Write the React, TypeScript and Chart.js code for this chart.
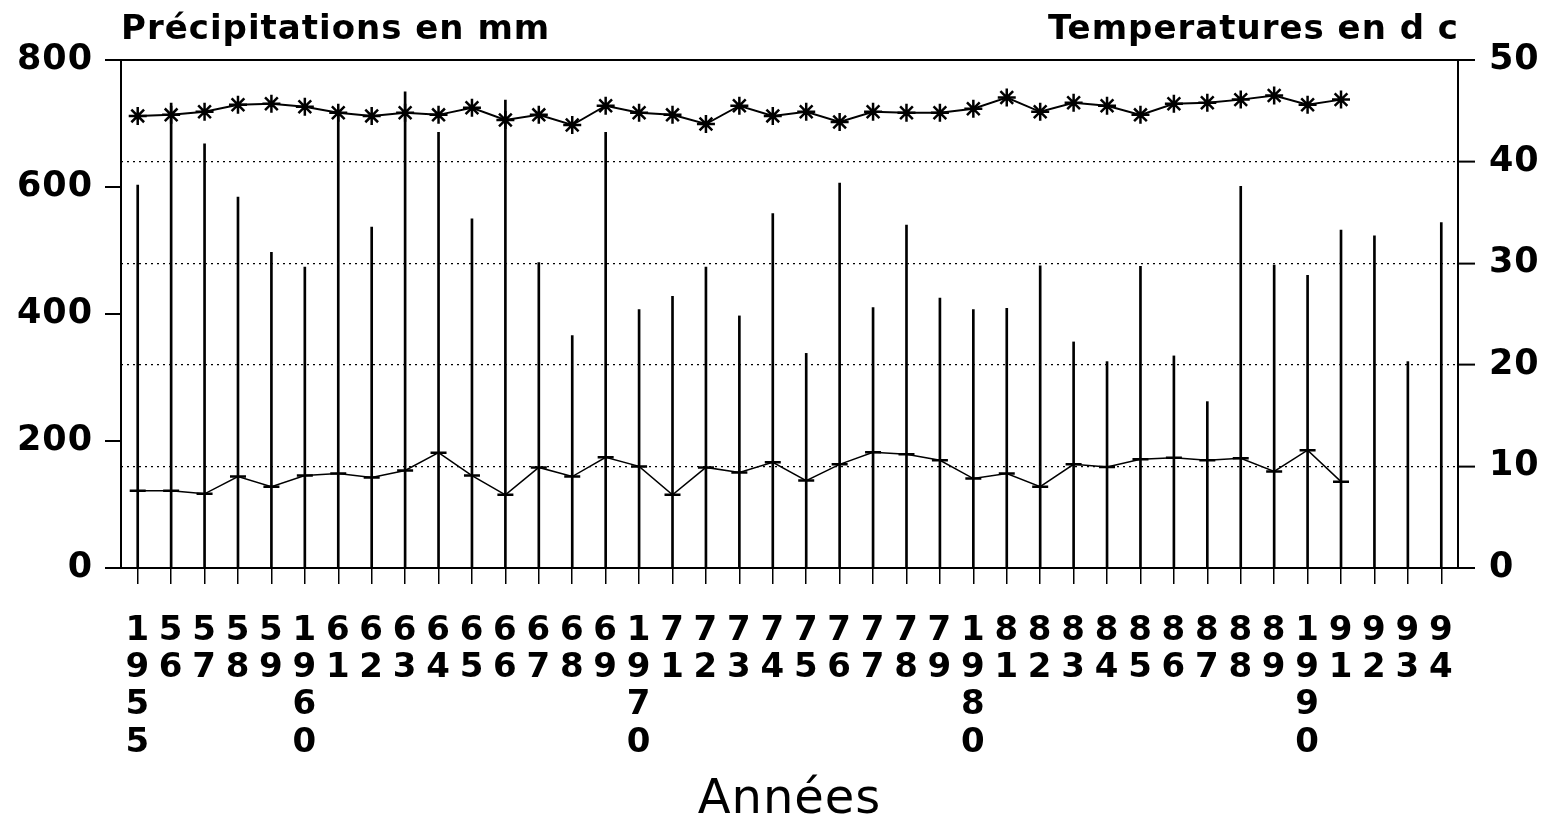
import React, { useEffect, useRef } from 'react';
import { Chart, registerables } from 'chart.js';

Chart.register(...registerables);

// ---- Data ----
const yearTicks = [
  '1955', '56', '57', '58', '59',
  '1960', '61', '62', '63', '64', '65', '66', '67', '68', '69',
  '1970', '71', '72', '73', '74', '75', '76', '77', '78', '79',
  '1980', '81', '82', '83', '84', '85', '86', '87', '88', '89',
  '1990', '91', '92', '93', '94',
];

// Précipitations annuelles (mm)
const precipitation = [
  603, 732, 668, 584, 497,
  474, 718, 537, 750, 686, 550, 737, 481, 366, 686,
  407, 428, 474, 397, 558, 338, 606, 410, 540, 425,
  407, 409, 476, 356, 325, 475, 334, 262, 601, 477,
  461, 532, 523, 325, 544,
];

// Températures maximales (°C), 1955-1991
const tempMax = [
  44.5, 44.6, 44.9, 45.6, 45.7,
  45.4, 44.8, 44.5, 44.8, 44.6, 45.3, 44.1, 44.6, 43.6, 45.5,
  44.8, 44.6, 43.7, 45.5, 44.5, 44.9, 43.9, 44.9, 44.8, 44.8,
  45.2, 46.3, 44.9, 45.8, 45.5, 44.6, 45.7, 45.8, 46.1, 46.5,
  45.6, 46.1,
];

// Températures minimales (°C), 1955-1991
const tempMin = [
  7.6, 7.6, 7.3, 9.0, 8.0,
  9.1, 9.3, 8.9, 9.6, 11.35, 9.1, 7.2, 9.9, 9.0, 10.9,
  10.0, 7.2, 9.9, 9.4, 10.4, 8.6, 10.2, 11.4, 11.2, 10.6,
  8.8, 9.3, 8.0, 10.2, 9.95, 10.7, 10.85, 10.6, 10.8, 9.5,
  11.6, 8.5,
];

const leftTicks = [0, 200, 400, 600, 800];
const rightTicks = [0, 10, 20, 30, 40, 50];

const leftTitle = 'Précipitations en mm';
const rightTitle = 'Temperatures en d c';
const xTitle = 'Années';

const FONT = '"DejaVu Sans", "Liberation Sans", sans-serif';

const textPlugin = {
  id: 'textPlugin',
  beforeDraw(chart: any) {
    (chart.ctx as any).letterSpacing = '1px';
  },
  afterDraw(chart: any) {
    const { ctx, chartArea } = chart;
    ctx.save();
    (ctx as any).letterSpacing = '1px';
    ctx.fillStyle = '#000';
    ctx.font = `bold 34px ${FONT}`;
    ctx.textBaseline = 'alphabetic';
    ctx.textAlign = 'left';
    ctx.fillText(leftTitle, chartArea.left, 39);
    ctx.textAlign = 'right';
    ctx.fillText(rightTitle, chartArea.right + 1, 39);
    ctx.restore();
  },
};

export default function App() {
  const canvasRef = useRef<HTMLCanvasElement | null>(null);

  useEffect(() => {
    if (!canvasRef.current) return;
    const chart = new Chart(canvasRef.current, {
      type: 'bar',
      data: {
        labels: yearTicks.map((t) => t.split('')),
        datasets: [
          {
            type: 'line',
            label: 'Tmax',
            data: tempMax,
            yAxisID: 'y1',
            borderColor: '#000',
            borderWidth: 2,
            pointStyle: 'star',
            pointRadius: 9,
            pointBorderWidth: 2.5,
            pointBorderColor: '#000',
            pointBackgroundColor: '#000',
            tension: 0,
            order: 1,
          } as any,
          {
            type: 'line',
            label: 'Tmin',
            data: tempMin,
            yAxisID: 'y1',
            borderColor: '#000',
            borderWidth: 1.5,
            pointStyle: 'line',
            pointRadius: 8,
            pointBorderWidth: 2.5,
            pointBorderColor: '#000',
            pointBackgroundColor: '#000',
            tension: 0,
            order: 2,
          } as any,
          {
            type: 'bar',
            label: 'Précipitations',
            data: precipitation,
            yAxisID: 'y',
            backgroundColor: '#000',
            borderWidth: 0,
            barThickness: 2,
            order: 3,
          } as any,
        ],
      },
      options: {
        animation: false,
        responsive: true,
        maintainAspectRatio: false,
        layout: { padding: { top: 60, left: 0, right: 0, bottom: 0 } },
        plugins: {
          legend: { display: false },
          tooltip: { enabled: false },
          title: { display: false },
        },
        scales: {
          x: {
            type: 'category',
            position: 'bottom',
            offset: true,
            grid: {
              offset: false,
              drawOnChartArea: false,
              drawTicks: true,
              tickLength: 16,
              color: '#000',
              lineWidth: 1.5,
            },
            border: { display: true, color: '#000', width: 2 },
            ticks: {
              autoSkip: false,
              maxRotation: 0,
              minRotation: 0,
              padding: 28,
              color: '#000',
              font: { family: FONT, weight: 'bold', size: 34, lineHeight: 1.1 },
            },
            title: {
              display: true,
              text: xTitle,
              color: '#000',
              font: { family: FONT, size: 48, lineHeight: 0.82 },
              padding: { top: 0, bottom: 0 },
            },
            afterFit: (s: any) => {
              s.height = 252;
            },
          },
          y: {
            type: 'linear',
            position: 'left',
            min: 0,
            max: 800,
            afterBuildTicks: (s: any) => {
              s.ticks = leftTicks.map((v) => ({ value: v }));
            },
            grid: {
              drawOnChartArea: false,
              drawTicks: true,
              tickLength: 16,
              color: '#000',
              lineWidth: 2,
            },
            border: { display: true, color: '#000', width: 2 },
            ticks: {
              padding: 12,
              color: '#000',
              font: { family: FONT, weight: 'bold', size: 35 },
            },
            afterFit: (s: any) => {
              s.width = 121;
            },
          },
          y1: {
            type: 'linear',
            position: 'right',
            min: 0,
            max: 50,
            afterBuildTicks: (s: any) => {
              s.ticks = rightTicks.map((v) => ({ value: v }));
            },
            grid: {
              drawOnChartArea: true,
              drawTicks: true,
              tickLength: 17,
              color: '#000',
              lineWidth: (c: any) => (c.tick && (c.tick.value === 50 || c.tick.value === 0) ? 2 : 1.2),
              tickWidth: 2,
              tickBorderDash: [],
            },
            border: {
              display: true,
              color: '#000',
              width: 2,
              dash: (c: any) => (c.tick && c.tick.value > 0 && c.tick.value < 50 ? [2, 4] : []),
            },
            ticks: {
              padding: 14,
              color: '#000',
              font: { family: FONT, weight: 'bold', size: 35 },
            },
            afterFit: (s: any) => {
              s.width = 89;
            },
          },
        },
      } as any,
      plugins: [textPlugin],
    });
    return () => chart.destroy();
  }, []);

  return (
    <div style={{ position: 'absolute', left: 0, top: 0, width: 1547, height: 820, background: '#fff' }}>
      <canvas ref={canvasRef} />
    </div>
  );
}
